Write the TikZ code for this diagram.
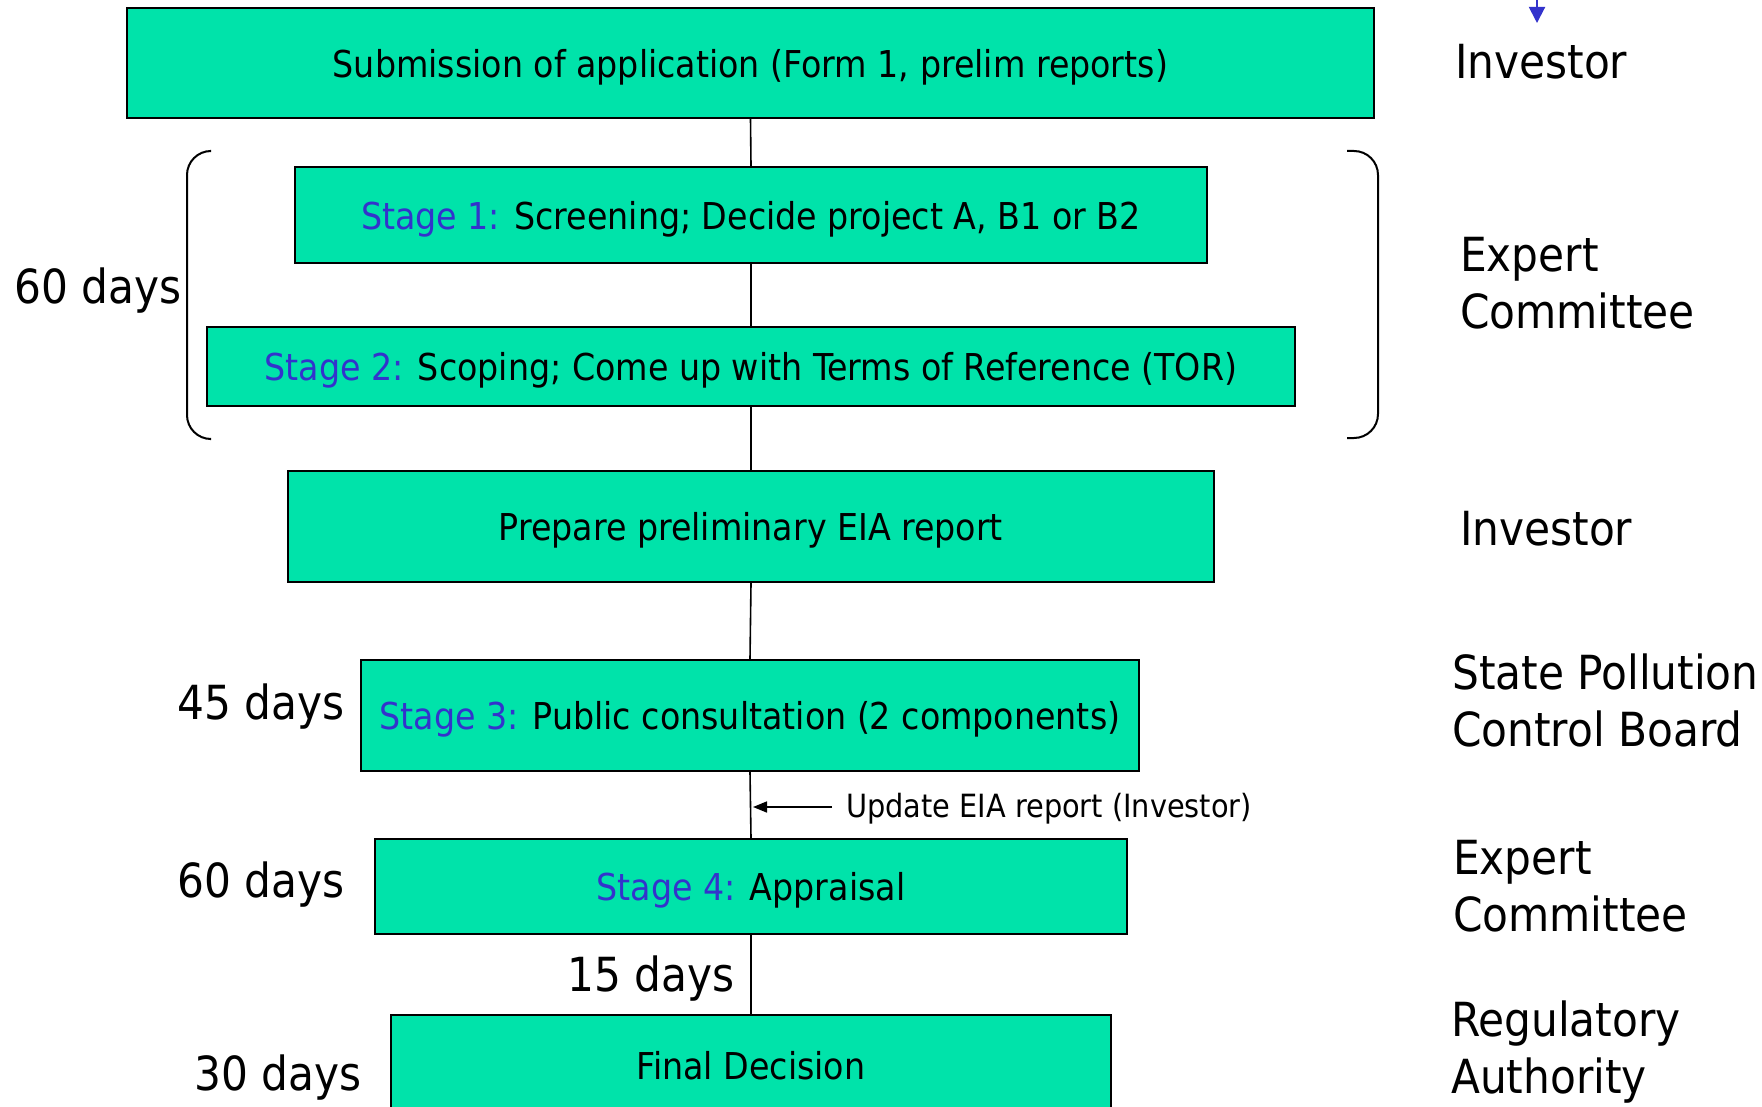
\documentclass[tikz,border=0pt]{standalone}
\usepackage{fontspec}
\setmainfont{DejaVu Sans Condensed}
\usetikzlibrary{arrows.meta}
\definecolor{boxgreen}{RGB}{0,227,170}
\definecolor{stageblue}{RGB}{51,51,204}
\newcommand{\stg}[1]{\textcolor{stageblue}{#1}}
\begin{document}
\begin{tikzpicture}[x=1pt,y=-1pt,
  box/.style={draw=black, line width=2.2pt, fill=boxgreen, inner sep=0pt, text depth=0pt, font=\fontsize{37}{44}\selectfont},
  conn/.style={line width=1.6pt},
  side/.style={anchor=west, align=left, inner sep=0pt, font=\fontsize{47}{57}\selectfont},
  days/.style={anchor=east, inner sep=0pt, font=\fontsize{47}{57}\selectfont},
  brace/.style={line width=2pt, rounded corners=24pt},
  small/.style={anchor=west, inner sep=0pt, font=\fontsize{32}{38}\selectfont}
]
\useasboundingbox (0,0) rectangle (1762,1107);
\clip (0,0) rectangle (1762,1107);

% boxes
\node[box, minimum width=1247pt, minimum height=110pt] (top) at (750.5,63) {Submission of application (Form 1, prelim reports)};
\node[box, minimum width=912pt, minimum height=96pt] (s1) at (751,215) {\stg{Stage 1:} Screening; Decide project A, B1 or B2};
\node[box, minimum width=1088pt, minimum height=79pt] (s2) at (751,366.5) {\stg{Stage 2:} Scoping; Come up with Terms of Reference (TOR)};
\node[box, minimum width=926pt, minimum height=111pt] (prep) at (751,526.5) {Prepare preliminary EIA report};
\node[box, minimum width=778pt, minimum height=111pt] (s3) at (750,715.5) {\stg{Stage 3:} Public consultation (2 components)};
\node[box, minimum width=752pt, minimum height=95pt] (s4) at (751,886.5) {\stg{Stage 4:} Appraisal};
\node[box, minimum width=720pt, minimum height=100pt] (fin) at (751,1065) {Final Decision};

% connectors
\draw[conn] (top.south) -- (s1.north);
\draw[conn] (s1.south) -- (s2.north);
\draw[conn] (s2.south) -- (prep.north);
\draw[conn] (prep.south) -- (s3.north);
\draw[conn] (s3.south) -- (s4.north);
\draw[conn] (s4.south) -- (fin.north);

% update arrow
\node[small] (upd) at (846,809) {Update EIA report (Investor)};
\coordinate (updstart) at (832,807);
\coordinate (updend) at (753,807);
\draw[conn, -{Triangle[length=14pt,width=11pt]}] (updstart) -- (updend);

% braces
\draw[brace] (210,151) -- (187,151) -- (187,439) -- (210,439);
\draw[brace] (1347,151) -- (1378,151) -- (1378,438) -- (1347,438);

% blue arrow top right
\coordinate (ba1) at (1537,-2);
\coordinate (ba2) at (1537,23);
\draw[stageblue, line width=2pt, -{Triangle[length=16pt,width=16pt]}] (ba1) -- (ba2);

% day labels
\node[days] (d60a) at (182,291) {60 days};
\node[days] (d45) at (345,707) {45 days};
\node[days] (d60b) at (345,885) {60 days};
\node[days] (d15) at (735,979) {15 days};
\node[days] (d30) at (362,1078) {30 days};

% side labels
\node[side] (r1) at (1455,62) {Investor};
\node[side] (r2) at (1460,283.5) {Expert\\Committee};
\node[side] (r3) at (1460,529) {Investor};
\node[side] (r4) at (1452,700) {State Pollution\\Control Board};
\node[side] (r5) at (1453,886) {Expert\\Committee};
\node[side] (r6) at (1451,1052) {Regulatory\\Authority};
\end{tikzpicture}
\end{document}
